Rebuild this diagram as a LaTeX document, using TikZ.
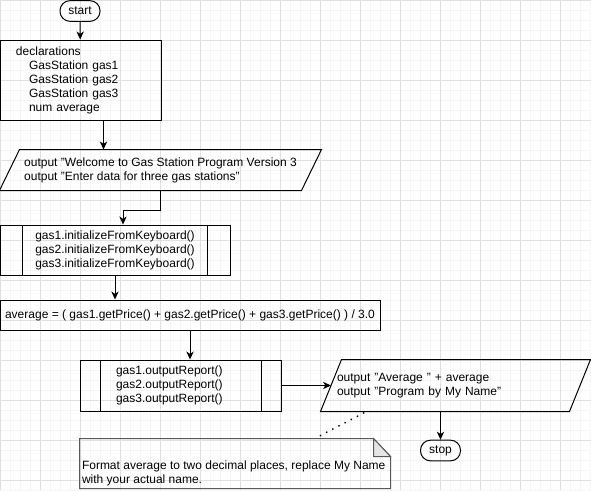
\documentclass[tikz,border=0pt]{standalone}
\usepackage{fontspec}
\setmainfont{Liberation Sans}
\usetikzlibrary{arrows.meta,calc}

\begin{document}
\begin{tikzpicture}[x=0.75pt, y=-0.75pt,
    box/.style={draw, line width=0.75pt, inner sep=0pt, font=\fontsize{9pt}{10.5pt}\selectfont},
    textonly/.style={box, draw=none, align=left},
    terminal/.style={box, rounded corners=7.5pt, minimum width=30pt, minimum height=15.5pt},
    line/.style={line width=0.75pt, -{Stealth[length=6pt,width=5.5pt,inset=1.8pt]}},
    link/.style={line width=1.5pt, line cap=round, dash pattern=on 0.01pt off 5.2pt}]
    \useasboundingbox (0,0) rectangle (591,490);
    % the grid in the back
    \fill[white] (0,0) rectangle (591,490);
    \foreach \i in {0,10,...,590} \draw[black!4, line width=0.75pt] (\i,0) -- (\i,490);
    \foreach \j in {0,10,...,490} \draw[black!4, line width=0.75pt] (0,\j) -- (591,\j);
    \foreach \i in {0,40,...,560} \draw[black!12, line width=0.75pt] (\i,0) -- (\i,490);
    \foreach \j in {0,40,...,480} \draw[black!12, line width=0.75pt] (0,\j) -- (591,\j);
    % the boxes of the flow
    \node[terminal] (start) at (80,11) {start};
    \node[box, minimum width=120.75pt, minimum height=60pt, text width=96.75pt, inner xsep=12pt, align=left] (decl) at (80.5,80)
        {declarations\\ \hspace*{9.75pt}GasStation gas1\\ \hspace*{9.75pt}GasStation gas2\\ \hspace*{9.75pt}GasStation gas3\\ \hspace*{9.75pt}num average};
    \node[textonly, minimum width=240.75pt, minimum height=30pt] (out1) at (160.5,170)
        {output "Welcome to Gas Station Program Version 3\\output "Enter data for three gas stations"};
    \draw[line width=0.75pt] ($(out1.north west)+(20,0)$) -- (out1.north east) -- ($(out1.south east)+(-20,0)$) -- (out1.south west) -- cycle;
    \node[box, minimum width=172.5pt, minimum height=37.5pt, align=center] (init) at (115,250)
        {gas1.initializeFromKeyboard()\\gas2.initializeFromKeyboard()\\gas3.initializeFromKeyboard()};
    \draw[line width=0.75pt] ($(init.north west)+(23,0)$) -- ($(init.south west)+(23,0)$);
    \draw[line width=0.75pt] ($(init.north east)+(-23,0)$) -- ($(init.south east)+(-23,0)$);
    \node[box, minimum width=285pt, minimum height=22.5pt] (avg) at (190,315)
        {average = ( gas1.getPrice() + gas2.getPrice() + gas3.getPrice() ) / 3.0};
    \node[box, minimum width=150.75pt, minimum height=38.25pt, text width=96.75pt, inner xsep=27pt, align=left] (report) at (180.5,385.5)
        {gas1.outputReport()\\gas2.outputReport()\\gas3.outputReport()};
    \draw[line width=0.75pt] ($(report.north west)+(20.5,0)$) -- ($(report.south west)+(20.5,0)$);
    \draw[line width=0.75pt] ($(report.north east)+(-20,0)$) -- ($(report.south east)+(-20,0)$);
    \node[textonly, minimum width=201.75pt, minimum height=38.25pt, text width=177.75pt, inner xsep=12pt] (out2) at (455.5,385.5)
        {output "Average " + average\\output "Program by My Name"};
    \draw[line width=0.75pt] ($(out2.north west)+(21,0)$) -- (out2.north east) -- ($(out2.south east)+(-21,0)$) -- (out2.south west) -- cycle;
    \node[terminal] (stop) at (440.5,450.5) {stop};
    % the note with its folded corner
    \node[textonly, minimum width=232.5pt, minimum height=36.75pt] (note) at (235,463.5) {};
    \node[textonly, anchor=south west] (notetext) at ($(note.south west)+(2,-2)$)
        {Format average to two decimal places, replace My Name\\with your actual name.};
    \draw[black!65, line width=0.75pt] (note.north west) -- ($(note.north east)+(-17,0)$) -- ($(note.north east)+(0,18)$) -- (note.south east) -- (note.south west) -- cycle;
    \filldraw[fill=black!10, draw=black!65, line width=0.75pt] ($(note.north east)+(-17,0)$) -- ($(note.north east)+(-17,18)$) -- ($(note.north east)+(0,18)$) -- cycle;
    % the connectors
    \coordinate (d1) at ($(decl.south west)+(104,0)$);
    \coordinate (i1) at ($(init.north)+(8,0)$);
    \coordinate (o2) at ($(out2.west)+(10.5,0)$);
    \coordinate (n1) at ($(note.north west)+(241,-3)$);
    \coordinate (n2) at ($(out2.south west)+(44,1)$);
    \draw[line] (start) -- (decl);
    \draw[line] (d1) -- (d1 |- out1.north);
    \draw[line] (out1.south) -- ++(0,20) -| (i1);
    \draw[line] (init.south) -- (init.south |- avg.north);
    \draw[line] (avg.south) -- (avg.south |- report.north);
    \draw[line] (report.east) -- (o2);
    \draw[line] (stop.north |- out2.south) -- (stop.north);
    \draw[link] (n1) -- (n2);
\end{tikzpicture}
\end{document}
